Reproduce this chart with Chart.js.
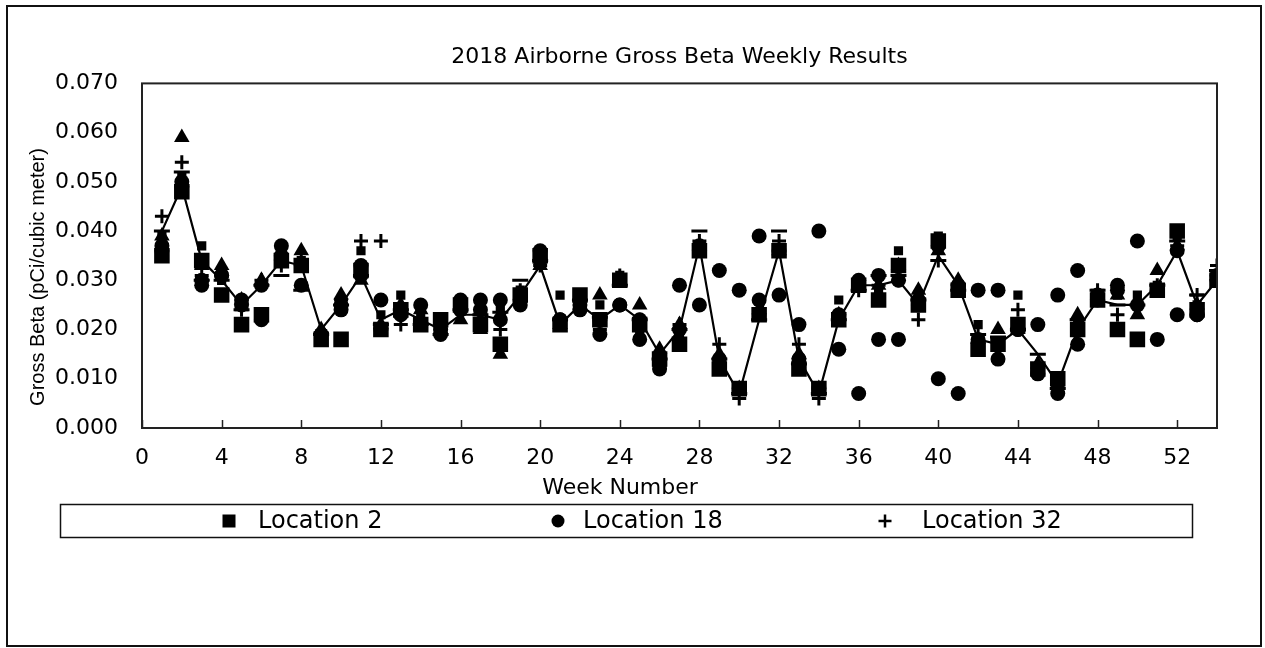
<!DOCTYPE html>
<html>
<head>
<meta charset="utf-8">
<script src="https://cdn.jsdelivr.net/npm/chart.js@4.4.1/dist/chart.umd.min.js"></script>
<style>
html,body{margin:0;padding:0;background:#fff;}
#wrap{position:relative;width:1265px;height:648px;}
canvas{display:block;}
</style>
</head>
<body>
<div id="wrap"><canvas id="c" width="1265" height="648"></canvas></div>
<script>
const chartTitle = '2018 Airborne Gross Beta Weekly Results';
const xAxisTitle = 'Week Number';
const yAxisTitle = 'Gross Beta (pCi/cubic meter)';

const weeks = [1,2,3,4,5,6,7,8,9,10,11,12,13,14,15,16,17,18,19,20,21,22,23,24,25,26,27,
               28,29,30,31,32,33,34,35,36,37,38,39,40,41,42,43,44,45,46,47,48,49,50,51,52,53,54];
const xTicks = [0,4,8,12,16,20,24,28,32,36,40,44,48,52];
const yTicks = [0.000,0.010,0.020,0.030,0.040,0.050,0.060,0.070];
const legendLabels = ['Location 2','Location 18','Location 32'];

// Location 2 (large squares)
const loc2 = [0.035,0.048,0.034,0.027,0.021,0.023,0.034,0.033,0.018,0.018,
              0.032,0.020,0.024,0.021,0.022,0.025,0.021,0.017,0.027,0.035,
              0.021,0.027,0.022,0.030,0.021,0.014,0.017,0.036,0.012,0.008,
              0.023,0.036,0.012,0.008,0.022,0.029,0.026,0.033,0.025,0.038,
              0.028,0.016,0.017,0.021,0.012,0.010,0.020,0.026,0.020,0.018,
              0.028,0.040,0.024,0.030];
// Location 18 (circles)
const loc18 = [0.037,0.050,0.029,0.031,0.025,0.022,0.037,0.029,0.019,0.024,
               0.033,0.026,0.023,0.025,0.019,0.026,0.026,0.026,0.025,0.036,
               0.022,0.024,0.019,0.025,0.018,0.012,0.029,0.025,0.032,0.028,
               0.039,0.027,0.021,0.040,0.016,0.007,0.018,0.018,0.025,0.010,
               0.007,0.028,0.028,0.020,0.021,0.027,0.032,0.027,0.029,0.038,
               0.018,0.023,0.023,0.030];
// Location 32 (plus)
const loc32 = [0.043,0.054,0.031,0.031,0.024,0.030,0.033,0.034,0.018,0.026,
               0.038,0.038,0.021,0.022,0.020,0.024,0.023,0.020,0.028,0.033,
               0.021,0.025,0.020,0.031,0.022,0.015,0.021,0.038,0.017,0.006,
               0.023,0.038,0.017,0.006,0.023,0.028,0.029,0.030,0.022,0.034,
               0.029,0.019,0.017,0.024,0.013,0.008,0.021,0.028,0.023,0.025,
               0.029,0.037,0.027,0.033];
// further series whose legend entries are cut off in the original
const triSeries = [0.039,0.059,0.033,0.033,0.026,0.030,0.035,0.036,0.020,0.027,
                   0.030,0.021,0.025,0.024,0.020,0.022,0.020,0.015,0.027,0.033,
                   0.021,0.025,0.027,0.030,0.025,0.016,0.021,0.037,0.015,0.008,
                   0.024,0.036,0.015,0.008,0.023,0.029,0.029,0.033,0.028,0.036,
                   0.030,0.018,0.020,0.020,0.013,0.009,0.023,0.027,0.027,0.023,
                   0.032,0.037,0.025,0.031];
const dashSeries = [0.040,0.052,0.030,0.030,0.024,0.029,0.031,0.028,0.019,0.025,
                    0.031,0.021,0.024,0.021,0.019,0.024,0.023,0.0235,0.030,0.034,
                    0.022,0.026,0.0225,0.029,0.022,0.014,0.020,0.040,0.014,0.007,
                    0.022,0.040,0.013,0.007,0.022,0.028,0.031,0.031,0.026,0.034,
                    0.028,0.019,0.0185,0.020,0.015,0.008,0.022,0.028,0.025,0.025,
                    0.029,0.038,0.027,0.032];
const smallSqSeries = [0.039,0.051,0.037,0.030,0.025,0.029,0.034,0.034,0.019,0.026,
                       0.036,0.023,0.027,0.023,0.021,0.026,0.024,0.024,0.028,0.035,
                       0.027,0.027,0.025,0.031,0.020,0.015,0.019,0.036,0.013,0.008,
                       0.026,0.036,0.013,0.008,0.026,0.029,0.028,0.036,0.025,0.039,
                       0.029,0.021,0.017,0.027,0.012,0.010,0.021,0.027,0.027,0.027,
                       0.029,0.039,0.025,0.031];
const circ2Series = [0.036,0.049,0.030,0.031,0.026,0.029,0.035,0.033,0.019,0.025,
                     0.031,0.020,0.024,0.021,0.020,0.024,0.024,0.022,0.026,0.034,
                     0.022,0.025,0.022,0.025,0.022,0.013,0.020,0.037,0.014,0.008,
                     0.026,0.036,0.014,0.008,0.023,0.030,0.031,0.030,0.026,0.037,
                     0.029,0.018,0.014,0.020,0.011,0.007,0.017,0.026,0.028,0.025,
                     0.028,0.036,0.023,0.031];
const lineSeries = [0.040,0.049,0.034,0.030,0.025,0.029,0.034,0.033,0.020,0.025,
                    0.031,0.022,0.024,0.022,0.020,0.023,0.023,0.022,0.027,0.033,
                    0.021,0.025,0.022,0.025,0.022,0.015,0.020,0.037,0.014,0.007,
                    0.022,0.036,0.014,0.007,0.022,0.029,0.029,0.030,0.025,0.035,
                    0.029,0.018,0.017,0.020,0.015,0.009,0.020,0.026,0.025,0.025,
                    0.029,0.036,0.025,0.030];

const pts = vals => weeks.map((w, i) => ({x: w, y: vals[i]}));
const HFONT = 'DejaVu Sans';

function markerSet(label, vals, style, radius, bw) {
  return {label, data: pts(vals), showLine: false, pointStyle: style, pointRadius: radius,
          pointHoverRadius: radius, backgroundColor: '#000', borderColor: '#000',
          pointBorderWidth: bw, borderWidth: bw};
}

const datasets = [
  markerSet(legendLabels[0], loc2, 'rect', 11, 0),
  markerSet(legendLabels[1], loc18, 'circle', 7.5, 0),
  markerSet(legendLabels[2], loc32, 'cross', 7, 3),
  markerSet('Series 4', triSeries, 'triangle', 9, 0),
  markerSet('Series 5', dashSeries, 'line', 8, 3),
  markerSet('Series 6', smallSqSeries, 'rect', 6.5, 0),
  markerSet('Series 7', circ2Series, 'circle', 7.5, 0),
  {label: 'Series 8', data: pts(lineSeries), showLine: true, pointRadius: 0, borderColor: '#000',
   backgroundColor: '#000', borderWidth: 2.2, tension: 0}
];

function legendPoint(ctx, style, r, x, y, lw) {
  ctx.save();
  ctx.fillStyle = '#000'; ctx.strokeStyle = '#000'; ctx.lineWidth = lw;
  if (Chart.helpers && Chart.helpers.drawPoint) {
    Chart.helpers.drawPoint(ctx, {pointStyle: style, radius: r, rotation: 0, borderWidth: lw}, x, y);
  }
  ctx.restore();
}

const framePlugin = {
  id: 'frame',
  beforeDraw(chart) {
    const ctx = chart.ctx;
    ctx.save(); ctx.fillStyle = '#fff'; ctx.fillRect(0, 0, chart.width, chart.height); ctx.restore();
  },
  afterDraw(chart) {
    const {ctx, chartArea: a, scales: {x}} = chart;
    ctx.save();
    ctx.strokeStyle = '#222'; ctx.lineWidth = 2;
    ctx.strokeRect(a.left, a.top, a.right - a.left, a.bottom - a.top);
    ctx.lineWidth = 1.5;
    xTicks.forEach(v => {
      const px = Math.round(x.getPixelForValue(v)) + 0.5;
      ctx.beginPath(); ctx.moveTo(px, a.bottom); ctx.lineTo(px, a.bottom - 8); ctx.stroke();
    });
    // outer frame
    ctx.strokeStyle = '#111'; ctx.lineWidth = 2;
    ctx.strokeRect(7, 6, 1254, 640);
    // axis titles
    ctx.fillStyle = '#000';
    ctx.textAlign = 'center'; ctx.textBaseline = 'middle';
    ctx.font = '22px "' + HFONT + '"';
    ctx.fillText(xAxisTitle, 620, 488);
    ctx.save();
    ctx.translate(38, 277); ctx.rotate(-Math.PI / 2);
    ctx.font = '20px "Liberation Sans"';
    ctx.fillText(yAxisTitle, 0, 0);
    ctx.restore();
    // legend
    ctx.strokeStyle = '#111'; ctx.lineWidth = 1.5;
    ctx.strokeRect(60.5, 504.5, 1132, 33);
    const ly = 521;
    legendPoint(ctx, 'rect', 9.2, 229, ly, 0);
    legendPoint(ctx, 'circle', 6.5, 558, ly, 0);
    legendPoint(ctx, 'cross', 6.5, 885, ly, 2.5);
    ctx.fillStyle = '#000'; ctx.textAlign = 'left'; ctx.textBaseline = 'middle';
    ctx.font = '24px "' + HFONT + '"';
    ctx.fillText(legendLabels[0], 258, ly + 1);
    ctx.fillText(legendLabels[1], 583, ly + 1);
    ctx.fillText(legendLabels[2], 922, ly + 1);
    ctx.restore();
  }
};

new Chart(document.getElementById('c'), {
  type: 'scatter',
  data: {datasets},
  plugins: [framePlugin],
  options: {
    responsive: false,
    animation: false,
    events: [],
    devicePixelRatio: 1,
    layout: {padding: {left: 0, right: 48, top: 0, bottom: 0}},
    plugins: {
      legend: {display: false},
      tooltip: {enabled: false},
      title: {display: true, text: chartTitle, fullSize: false, color: '#000',
              font: {family: HFONT, size: 22, weight: 'normal'}, padding: {top: 44, bottom: 13}}
    },
    scales: {
      x: {
        type: 'linear', min: 0, max: 54,
        grid: {display: false, drawTicks: false},
        border: {display: false},
        ticks: {color: '#000', font: {family: HFONT, size: 22}, padding: 17, maxRotation: 0,
                callback: v => String(v)},
        afterBuildTicks: s => { s.ticks = xTicks.map(v => ({value: v})); },
        afterFit: s => { s.height = 220; }
      },
      y: {
        type: 'linear', min: 0, max: 0.07,
        grid: {display: false, drawTicks: false},
        border: {display: false},
        ticks: {color: '#000', font: {family: HFONT, size: 22}, padding: 24,
                callback: v => Number(v).toFixed(3)},
        afterBuildTicks: s => { s.ticks = yTicks.map(v => ({value: v})); },
        afterFit: s => { s.width = 142; }
      }
    }
  }
});
</script>
</body>
</html>
